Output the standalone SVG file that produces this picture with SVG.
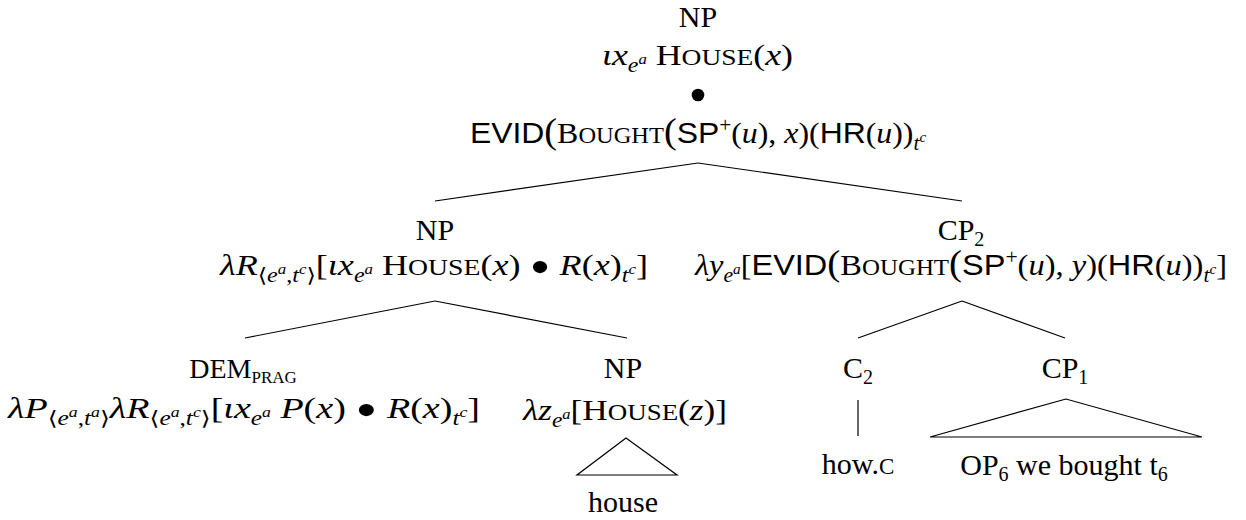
<svg xmlns="http://www.w3.org/2000/svg" width="1246" height="520" viewBox="0 0 1246 520">
<style>
.t{font-family:"Liberation Serif","DejaVu Serif",serif;font-size:30px;fill:#000}
.c{text-anchor:middle}
.i{font-style:italic}
.sf{font-family:"Liberation Sans","DejaVu Sans",sans-serif}
.sc{font-size:23px}
.s1{font-size:20px}
.s2{font-size:14px}
.big{font-size:36px}
.bl{font-size:50px}
.ln{stroke:#000;stroke-width:1.2;fill:none}
</style>
<rect width="1246" height="520" fill="#fff"/>
<g id="connectors" class="ln">
<line x1="698" y1="163" x2="435" y2="201"/>
<line x1="698" y1="163" x2="962" y2="201"/>
<line x1="435" y1="301" x2="245" y2="338"/>
<line x1="435" y1="301" x2="627" y2="338"/>
<line x1="962" y1="301" x2="858" y2="338"/>
<line x1="962" y1="301" x2="1065" y2="338"/>
<line x1="858" y1="400" x2="858" y2="436"/>
<polygon points="626,438 577,475 677,475"/>
<polygon points="1066,399 930,437 1202,437"/>
</g>
<g id="n-root">
<text class="t c" x="698" y="27">NP</text>
<text class="t" x="602" y="65" textLength="191" lengthAdjust="spacingAndGlyphs"><tspan class="i">ιx</tspan><tspan class="i s1" dy="7">e</tspan><tspan class="i s2" dy="-8">a</tspan><tspan dy="1"> H</tspan><tspan class="sc">OUSE</tspan><tspan>(</tspan><tspan class="i">x</tspan><tspan>)</tspan></text>
<text class="t c" x="698" y="106" style="font-size:32px">•</text>
<circle cx="698" cy="95" r="6.3" fill="#000"/>
<text class="t" x="470" y="143" textLength="456" lengthAdjust="spacingAndGlyphs"><tspan class="sf">EVID</tspan><tspan class="big">(</tspan><tspan>B</tspan><tspan class="sc">OUGHT</tspan><tspan class="big">(</tspan><tspan class="sf">SP</tspan><tspan class="s1" dy="-11">+</tspan><tspan dy="11">(</tspan><tspan class="i">u</tspan><tspan>), </tspan><tspan class="i">x</tspan><tspan>)(</tspan><tspan class="sf">HR</tspan><tspan>(</tspan><tspan class="i">u</tspan><tspan>))</tspan><tspan class="i s1" dy="7">t</tspan><tspan class="i s2" dy="-8">c</tspan></text>
</g>
<g id="n-np-mid">
<text class="t c" x="435" y="240">NP</text>
<text class="t" x="220" y="275" textLength="428" lengthAdjust="spacingAndGlyphs"><tspan class="i">λR</tspan><tspan class="s1" dy="7">⟨</tspan><tspan class="i s1">e</tspan><tspan class="i s2" dy="-8">a</tspan><tspan class="s1" dy="8">,</tspan><tspan class="i s1">t</tspan><tspan class="i s2" dy="-8">c</tspan><tspan class="s1" dy="8">⟩</tspan><tspan dy="-7">[</tspan><tspan class="i">ιx</tspan><tspan class="i s1" dy="7">e</tspan><tspan class="i s2" dy="-8">a</tspan><tspan dy="1"> H</tspan><tspan class="sc">OUSE</tspan><tspan>(</tspan><tspan class="i">x</tspan><tspan>) </tspan><tspan class="bl" dy="9">•</tspan><tspan dy="-9"> </tspan><tspan class="i">R</tspan><tspan>(</tspan><tspan class="i">x</tspan><tspan>)</tspan><tspan class="i s1" dy="7">t</tspan><tspan class="i s2" dy="-8">c</tspan><tspan dy="1">]</tspan></text>
</g>
<g id="n-cp2">
<text class="t c" x="961" y="240"><tspan>CP</tspan><tspan class="s1" dy="6">2</tspan></text>
<text class="t" x="695" y="275" textLength="532" lengthAdjust="spacingAndGlyphs"><tspan class="i">λy</tspan><tspan class="i s1" dy="7">e</tspan><tspan class="i s2" dy="-8">a</tspan><tspan dy="1">[</tspan><tspan class="sf">EVID</tspan><tspan class="big">(</tspan><tspan>B</tspan><tspan class="sc">OUGHT</tspan><tspan class="big">(</tspan><tspan class="sf">SP</tspan><tspan class="s1" dy="-11">+</tspan><tspan dy="11">(</tspan><tspan class="i">u</tspan><tspan>), </tspan><tspan class="i">y</tspan><tspan>)(</tspan><tspan class="sf">HR</tspan><tspan>(</tspan><tspan class="i">u</tspan><tspan>))</tspan><tspan class="i s1" dy="7">t</tspan><tspan class="i s2" dy="-8">c</tspan><tspan dy="1">]</tspan></text>
</g>
<g id="n-dem">
<text class="t c" x="243" y="378"><tspan style="font-size:28px">DEM</tspan><tspan style="font-size:17px" dy="5">PRAG</tspan></text>
<text class="t" x="8" y="418" textLength="472" lengthAdjust="spacingAndGlyphs"><tspan class="i">λP</tspan><tspan class="s1" dy="7">⟨</tspan><tspan class="i s1">e</tspan><tspan class="i s2" dy="-8">a</tspan><tspan class="s1" dy="8">,</tspan><tspan class="i s1">t</tspan><tspan class="i s2" dy="-8">a</tspan><tspan class="s1" dy="8">⟩</tspan><tspan class="i" dy="-7">λR</tspan><tspan class="s1" dy="7">⟨</tspan><tspan class="i s1">e</tspan><tspan class="i s2" dy="-8">a</tspan><tspan class="s1" dy="8">,</tspan><tspan class="i s1">t</tspan><tspan class="i s2" dy="-8">c</tspan><tspan class="s1" dy="8">⟩</tspan><tspan dy="-7">[</tspan><tspan class="i">ιx</tspan><tspan class="i s1" dy="7">e</tspan><tspan class="i s2" dy="-8">a</tspan><tspan dy="1"> </tspan><tspan class="i">P</tspan><tspan>(</tspan><tspan class="i">x</tspan><tspan>) </tspan><tspan class="bl" dy="9">•</tspan><tspan dy="-9"> </tspan><tspan class="i">R</tspan><tspan>(</tspan><tspan class="i">x</tspan><tspan>)</tspan><tspan class="i s1" dy="7">t</tspan><tspan class="i s2" dy="-8">c</tspan><tspan dy="1">]</tspan></text>
</g>
<g id="n-np-low">
<text class="t c" x="623" y="378">NP</text>
<text class="t" x="523" y="420" textLength="204" lengthAdjust="spacingAndGlyphs"><tspan class="i">λz</tspan><tspan class="i s1" dy="7">e</tspan><tspan class="i s2" dy="-8">a</tspan><tspan dy="1">[H</tspan><tspan class="sc">OUSE</tspan><tspan>(</tspan><tspan class="i">z</tspan><tspan>)]</tspan></text>
</g>
<g id="n-house">
<text class="t c" x="623" y="512">house</text>
</g>
<g id="n-c2">
<text class="t c" x="858" y="378"><tspan>C</tspan><tspan class="s1" dy="6">2</tspan></text>
</g>
<g id="n-howc">
<text class="t c" x="858" y="474"><tspan>how.</tspan><tspan class="sc">C</tspan></text>
</g>
<g id="n-cp1">
<text class="t c" x="1065" y="378"><tspan>CP</tspan><tspan class="s1" dy="6">1</tspan></text>
</g>
<g id="n-op">
<text class="t c" x="1064" y="475"><tspan>OP</tspan><tspan class="s1" dy="6">6</tspan><tspan dy="-6"> we bought t</tspan><tspan class="s1" dy="6">6</tspan></text>
</g>
</svg>
